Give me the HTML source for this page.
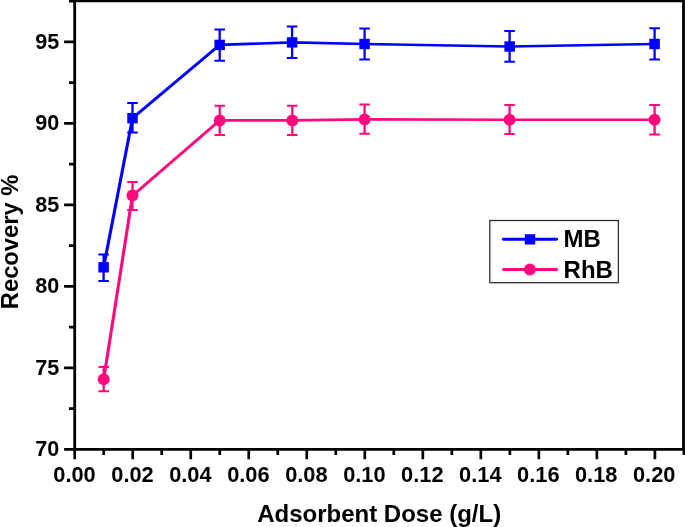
<!DOCTYPE html>
<html lang="en"><head><meta charset="utf-8"><title>Recovery vs Adsorbent Dose</title>
<style>html,body{margin:0;padding:0;background:#fff;}body{width:685px;height:527px;overflow:hidden;}svg{display:block;}text{font-family:"Liberation Sans",Arial,Helvetica,sans-serif;font-weight:bold;fill:#000;}</style></head><body>
<svg width="685" height="527" viewBox="0 0 685 527">
<rect x="0" y="0" width="685" height="527" fill="#fff"/>
<path d="M103.6 267.3L132.5 118.2" fill="none" stroke="#0000ff" stroke-width="3.1"/>
<path d="M132.5 118.2L219.7 44.9" fill="none" stroke="#0000ff" stroke-width="2.9"/>
<polyline points="219.7,44.9 292.1,42.4 364.6,44.0 509.6,46.5 654.6,44.0" fill="none" stroke="#0000ff" stroke-width="2.6" stroke-linejoin="round"/>
<path d="M103.6 254.6V280.9" stroke="#0000ff" stroke-width="2.3" fill="none"/><path d="M98.3 254.6H108.9M98.3 280.9H108.9" stroke="#0000ff" stroke-width="2" fill="none"/>
<rect x="98.35" y="262.10" width="10.5" height="10.4" fill="#0000ff"/>
<path d="M132.5 103.1V132.6" stroke="#0000ff" stroke-width="2.3" fill="none"/><path d="M127.2 103.1H137.8M127.2 132.6H137.8" stroke="#0000ff" stroke-width="2" fill="none"/>
<rect x="127.25" y="113.00" width="10.5" height="10.4" fill="#0000ff"/>
<path d="M219.7 29.5V60.7" stroke="#0000ff" stroke-width="2.3" fill="none"/><path d="M214.4 29.5H225.0M214.4 60.7H225.0" stroke="#0000ff" stroke-width="2" fill="none"/>
<rect x="214.45" y="39.70" width="10.5" height="10.4" fill="#0000ff"/>
<path d="M292.1 26.6V57.9" stroke="#0000ff" stroke-width="2.3" fill="none"/><path d="M286.8 26.6H297.4M286.8 57.9H297.4" stroke="#0000ff" stroke-width="2" fill="none"/>
<rect x="286.85" y="37.20" width="10.5" height="10.4" fill="#0000ff"/>
<path d="M364.6 28.4V59.5" stroke="#0000ff" stroke-width="2.3" fill="none"/><path d="M359.3 28.4H369.9M359.3 59.5H369.9" stroke="#0000ff" stroke-width="2" fill="none"/>
<rect x="359.35" y="38.80" width="10.5" height="10.4" fill="#0000ff"/>
<path d="M509.6 31.0V61.7" stroke="#0000ff" stroke-width="2.3" fill="none"/><path d="M504.3 31.0H514.9M504.3 61.7H514.9" stroke="#0000ff" stroke-width="2" fill="none"/>
<rect x="504.40" y="41.30" width="10.5" height="10.4" fill="#0000ff"/>
<path d="M654.6 28.3V59.5" stroke="#0000ff" stroke-width="2.3" fill="none"/><path d="M649.3 28.3H659.9M649.3 59.5H659.9" stroke="#0000ff" stroke-width="2" fill="none"/>
<rect x="649.35" y="38.80" width="10.5" height="10.4" fill="#0000ff"/>
<path d="M103.7 379.2L132.5 195.6" fill="none" stroke="#ff0a7d" stroke-width="3.1"/>
<path d="M132.5 195.6L219.7 120.4" fill="none" stroke="#ff0a7d" stroke-width="2.9"/>
<polyline points="219.7,120.4 292.3,120.4 364.6,119.4 509.6,119.7 654.6,119.8" fill="none" stroke="#ff0a7d" stroke-width="2.6" stroke-linejoin="round"/>
<path d="M103.7 366.9V391.2" stroke="#ff0a7d" stroke-width="2.3" fill="none"/><path d="M98.4 366.9H109.0M98.4 391.2H109.0" stroke="#ff0a7d" stroke-width="2" fill="none"/>
<circle cx="103.7" cy="379.2" r="6" fill="#ff0a7d"/>
<path d="M132.5 181.9V209.9" stroke="#ff0a7d" stroke-width="2.3" fill="none"/><path d="M127.2 181.9H137.8M127.2 209.9H137.8" stroke="#ff0a7d" stroke-width="2" fill="none"/>
<circle cx="132.5" cy="195.6" r="6" fill="#ff0a7d"/>
<path d="M219.7 105.8V135.0" stroke="#ff0a7d" stroke-width="2.3" fill="none"/><path d="M214.4 105.8H225.0M214.4 135.0H225.0" stroke="#ff0a7d" stroke-width="2" fill="none"/>
<circle cx="219.7" cy="120.4" r="6" fill="#ff0a7d"/>
<path d="M292.3 105.8V135.0" stroke="#ff0a7d" stroke-width="2.3" fill="none"/><path d="M287.0 105.8H297.6M287.0 135.0H297.6" stroke="#ff0a7d" stroke-width="2" fill="none"/>
<circle cx="292.3" cy="120.4" r="6" fill="#ff0a7d"/>
<path d="M364.6 104.4V133.7" stroke="#ff0a7d" stroke-width="2.3" fill="none"/><path d="M359.3 104.4H369.9M359.3 133.7H369.9" stroke="#ff0a7d" stroke-width="2" fill="none"/>
<circle cx="364.6" cy="119.4" r="6" fill="#ff0a7d"/>
<path d="M509.6 104.9V133.9" stroke="#ff0a7d" stroke-width="2.3" fill="none"/><path d="M504.3 104.9H514.9M504.3 133.9H514.9" stroke="#ff0a7d" stroke-width="2" fill="none"/>
<circle cx="509.6" cy="119.7" r="6" fill="#ff0a7d"/>
<path d="M654.6 105.0V134.5" stroke="#ff0a7d" stroke-width="2.3" fill="none"/><path d="M649.3 105.0H659.9M649.3 134.5H659.9" stroke="#ff0a7d" stroke-width="2" fill="none"/>
<circle cx="654.6" cy="119.8" r="6" fill="#ff0a7d"/>
<path d="M74.7 -0.55V450.80M73.30 449.4H684.90M683.50 449.4V-0.55M683.50 0.85H73.30" stroke="#000" stroke-width="2.8" fill="none"/>
<path d="M74.70 449.4V459.3M103.71 449.4V455.1M132.72 449.4V459.3M161.73 449.4V455.1M190.74 449.4V459.3M219.75 449.4V455.1M248.76 449.4V459.3M277.77 449.4V455.1M306.78 449.4V459.3M335.79 449.4V455.1M364.80 449.4V459.3M393.81 449.4V455.1M422.82 449.4V459.3M451.83 449.4V455.1M480.84 449.4V459.3M509.85 449.4V455.1M538.86 449.4V459.3M567.87 449.4V455.1M596.88 449.4V459.3M625.89 449.4V455.1M654.90 449.4V459.3M683.91 449.4V455.1M74.7 449.40H64.1M74.7 408.64H69M74.7 367.88H64.1M74.7 327.12H69M74.7 286.36H64.1M74.7 245.60H69M74.7 204.84H64.1M74.7 164.08H69M74.7 123.32H64.1M74.7 82.56H69M74.7 41.80H64.1M74.7 1.04H69" stroke="#000" stroke-width="2.7" fill="none"/>
<text x="74.5" y="481.6" font-size="21.8" text-anchor="middle">0.00</text>
<text x="132.5" y="481.6" font-size="21.8" text-anchor="middle">0.02</text>
<text x="190.4" y="481.6" font-size="21.8" text-anchor="middle">0.04</text>
<text x="248.4" y="481.6" font-size="21.8" text-anchor="middle">0.06</text>
<text x="306.4" y="481.6" font-size="21.8" text-anchor="middle">0.08</text>
<text x="364.4" y="481.6" font-size="21.8" text-anchor="middle">0.10</text>
<text x="422.3" y="481.6" font-size="21.8" text-anchor="middle">0.12</text>
<text x="480.3" y="481.6" font-size="21.8" text-anchor="middle">0.14</text>
<text x="538.3" y="481.6" font-size="21.8" text-anchor="middle">0.16</text>
<text x="596.2" y="481.6" font-size="21.8" text-anchor="middle">0.18</text>
<text x="654.2" y="481.6" font-size="21.8" text-anchor="middle">0.20</text>
<text x="59.2" y="456.2" font-size="21.6" text-anchor="end">70</text>
<text x="59.2" y="374.7" font-size="21.6" text-anchor="end">75</text>
<text x="59.2" y="293.2" font-size="21.6" text-anchor="end">80</text>
<text x="59.2" y="211.6" font-size="21.6" text-anchor="end">85</text>
<text x="59.2" y="130.1" font-size="21.6" text-anchor="end">90</text>
<text x="59.2" y="48.6" font-size="21.6" text-anchor="end">95</text>
<text x="379.2" y="521.6" font-size="24" text-anchor="middle">Adsorbent Dose (g/L)</text>
<text transform="translate(17.5 241.9) rotate(-90)" font-size="23.75" text-anchor="middle">Recovery %</text>
<rect x="489.8" y="220.5" width="128.6" height="62.2" fill="#fff" stroke="#2a2a2a" stroke-width="1.25"/>
<path d="M503.4 239.3H556.6" stroke="#0000ff" stroke-width="2.9" stroke-linecap="round"/><rect x="524.8" y="234.2" width="10.4" height="10.3" fill="#0000ff"/>
<path d="M503.4 269.5H556.6" stroke="#ff0a7d" stroke-width="2.9" stroke-linecap="round"/><circle cx="529.9" cy="269.5" r="5.9" fill="#ff0a7d"/>
<text x="563.6" y="247.2" font-size="24">MB</text>
<text x="563.6" y="277.5" font-size="24">RhB</text>
</svg></body></html>
